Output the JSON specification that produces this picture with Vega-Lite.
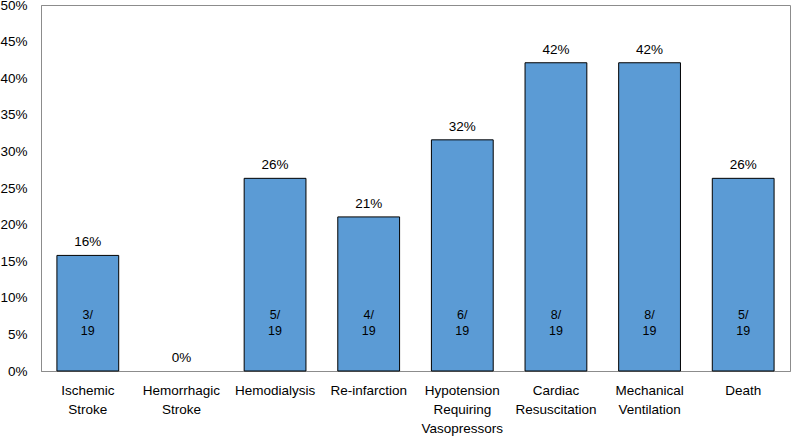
{
  "$schema": "https://vega.github.io/schema/vega-lite/v6.json",
  "width": 749,
  "height": 366,
  "autosize": {"type": "none"},
  "padding": {"left": 41, "top": 5, "right": 1, "bottom": 66},
  "background": "white",
  "config": {
    "font": "Liberation Sans",
    "view": {"stroke": "#8c8c8c", "strokeWidth": 1}
  },
  "data": {
    "values": [
      {"outcome": "Ischemic Stroke", "pct": 0.1579, "frac": "3/\n19"},
      {"outcome": "Hemorrhagic Stroke", "pct": 0, "frac": ""},
      {"outcome": "Hemodialysis", "pct": 0.2632, "frac": "5/\n19"},
      {"outcome": "Re-infarction", "pct": 0.2105, "frac": "4/\n19"},
      {"outcome": "Hypotension Requiring Vasopressors", "pct": 0.3158, "frac": "6/\n19"},
      {"outcome": "Cardiac Resuscitation", "pct": 0.4211, "frac": "8/\n19"},
      {"outcome": "Mechanical Ventilation", "pct": 0.4211, "frac": "8/\n19"},
      {"outcome": "Death", "pct": 0.2632, "frac": "5/\n19"}
    ]
  },
  "encoding": {
    "x": {
      "field": "outcome",
      "type": "nominal",
      "sort": ["Ischemic Stroke", "Hemorrhagic Stroke", "Hemodialysis", "Re-infarction", "Hypotension Requiring Vasopressors", "Cardiac Resuscitation", "Mechanical Ventilation", "Death"],
      "scale": {"paddingInner": 0.34, "paddingOuter": 0.17},
      "axis": {
        "title": null,
        "labelAngle": 0,
        "labelExpr": "split(datum.value, ' ')",
        "labelFont": "Liberation Sans",
        "labelFontSize": 13.5,
        "labelColor": "#000000",
        "labelPadding": 12,
        "labelLineHeight": 19,
        "labelBaseline": "top",
        "ticks": false,
        "domainColor": "#8c8c8c",
        "labelLimit": 200
      }
    },
    "y": {
      "field": "pct",
      "type": "quantitative",
      "scale": {"domain": [0, 0.5], "nice": false},
      "axis": {
        "title": null,
        "values": [0, 0.05, 0.1, 0.15, 0.2, 0.25, 0.3, 0.35, 0.4, 0.45, 0.5],
        "format": ".0%",
        "labelOverlap": false,
        "labelBound": false,
        "grid": false,
        "ticks": false,
        "labelPadding": 14,
        "labelFontSize": 13.5,
        "labelColor": "#000000",
        "domainColor": "#8c8c8c"
      }
    }
  },
  "layer": [
    {
      "transform": [{"filter": "datum.pct > 0"}],
      "mark": {"type": "bar", "color": "#5B9BD5", "stroke": "#000000", "strokeWidth": 1}
    },
    {
      "mark": {"type": "text", "baseline": "bottom", "dy": -6, "fontSize": 13.5, "color": "#000000"},
      "encoding": {
        "text": {"field": "pct", "type": "quantitative", "format": ".0%"}
      }
    },
    {
      "mark": {"type": "text", "baseline": "middle", "fontSize": 12.5, "color": "#000000", "lineHeight": 16, "lineBreak": "\n"},
      "transform": [{"filter": "datum.frac != ''"}],
      "encoding": {
        "y": {"datum": 0.077},
        "text": {"field": "frac"}
      }
    }
  ]
}
